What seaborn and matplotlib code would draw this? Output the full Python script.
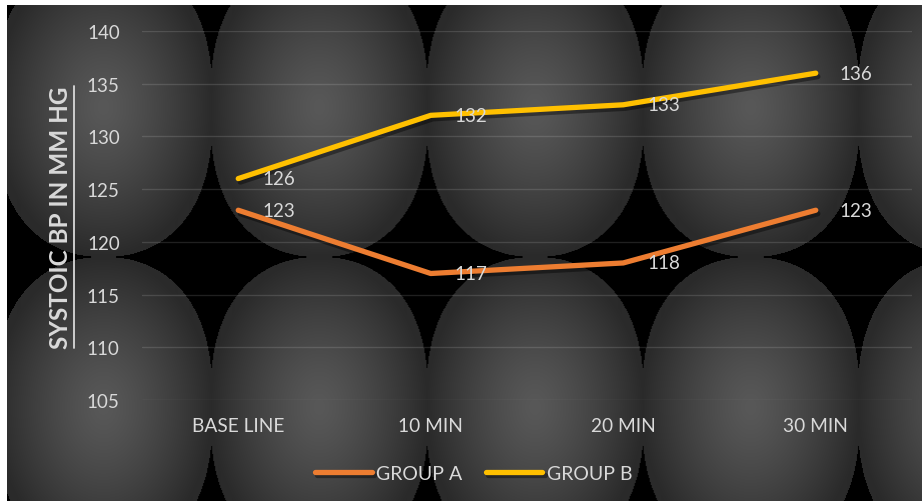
import numpy as np
import pandas as pd
import matplotlib
matplotlib.use("Agg")
import matplotlib.pyplot as plt
import matplotlib.patheffects as pe
import seaborn as sns

# ---------------- data ----------------
categories = ["BASE LINE", "10 MIN", "20 MIN", "30 MIN"]
group_a = [123, 117, 118, 123]
group_b = [126, 132, 133, 136]
series_names = ["GROUP A", "GROUP B"]
y_ticks = [105, 110, 115, 120, 125, 130, 135, 140]
y_label = "SYSTOIC BP IN MM HG"

colors = {"GROUP A": "#ED7D31", "GROUP B": "#FFC000"}
txt_color = "#d9d9d9"

df = pd.DataFrame({
    "time": categories * 2,
    "bp": group_a + group_b,
    "group": [series_names[0]] * len(categories) + [series_names[1]] * len(categories),
})

sns.set_theme(style="white")
plt.rcParams["font.family"] = ["Lato", "DejaVu Sans"]

W, H = 922, 502
fig = plt.figure(figsize=(W / 100, H / 100), dpi=100, facecolor="white")

# ---------------- textured background (Excel sphere texture) ----------------
bg = fig.add_axes([7 / W, 0, (W - 7) / W, (H - 6) / H])
X = np.arange(7, W) + 0.5
Y = np.arange(6, H) + 0.5
XX, YY = np.meshgrid(X, Y)
period_x, x0 = 215.5, 103.5
col = np.round((XX - x0) / period_x)
dx = XX - (x0 + col * period_x)
yc = np.where(YY < 258, 108.0, 408.0)
dy = YY - yc
a, b = 109.0, 150.0
inside = (np.abs(dx) / a) ** 2.2 + (np.abs(dy) / b) ** 2.6 <= 1
rho = np.clip(np.sqrt((dx / a) ** 2 + (dy / b) ** 2), 0, 1)
val = np.where(inside, 88 - 46 * rho ** 1.3, 0) / 255.0
img = np.dstack([val, val, val])
bg.imshow(img, aspect="auto", interpolation="bilinear")
bg.set_axis_off()

# ---------------- main axes ----------------
ax = fig.add_axes([142 / W, 1 - 401 / H, 770 / W, 369 / H])
ax.patch.set_alpha(0)

sns.lineplot(data=df, x="time", y="bp", hue="group", palette=colors,
             linewidth=3.8, sort=False, legend=False, ax=ax)
for ln in ax.lines:
    ln.set_solid_capstyle("round")
    ln.set_solid_joinstyle("round")
    ln.set_path_effects([pe.SimpleLineShadow(offset=(1.5, -2.5), shadow_color="black", alpha=0.4),
                         pe.Normal()])

ax.set_xlim(-0.5, len(categories) - 0.5)
ax.set_ylim(y_ticks[0], y_ticks[-1])
ax.set_yticks(y_ticks)
ax.set_xticks(range(len(categories)))
ax.set_xticklabels(categories)
ax.grid(axis="y", color="white", alpha=0.13, linewidth=1.0)
ax.grid(axis="x", visible=False)
for s in ax.spines.values():
    s.set_visible(False)
ax.tick_params(axis="y", length=0, pad=16, labelsize=13.5, labelcolor=txt_color)
ax.tick_params(axis="x", length=0, pad=12, labelsize=13.8, labelcolor=txt_color)
ax.set_xlabel("")
ax.set_ylabel("")

# data labels
for vals in (group_a, group_b):
    for i, v in enumerate(vals):
        ax.annotate(str(v), (i, v), xytext=(24, 0), textcoords="offset pixels",
                    ha="left", va="center", color=txt_color, fontsize=13.5)

# y-axis title (bold, underlined)
ylab = fig.text(61 / W, 1 - 218 / H, y_label, rotation=90, ha="center", va="center",
                fontsize=17.5, fontweight="bold", color=txt_color)
fig.canvas.draw()
bb = ylab.get_window_extent(renderer=fig.canvas.get_renderer())
ux = (bb.x1 + 1) / W
fig.add_artist(plt.Line2D([ux, ux], [bb.y0 / H, bb.y1 / H], color=txt_color, linewidth=1.3,
                          transform=fig.transFigure))

# legend
handles = list(ax.lines[:2])
fig.legend(handles=handles, labels=series_names, loc="center",
           bbox_to_anchor=(474 / W, 1 - 474 / H), ncol=2, frameon=False,
           fontsize=14, labelcolor=txt_color, handlelength=2.9, handletextpad=0.25,
           columnspacing=1.2)

fig.savefig("out.png", dpi=100, facecolor="white")
